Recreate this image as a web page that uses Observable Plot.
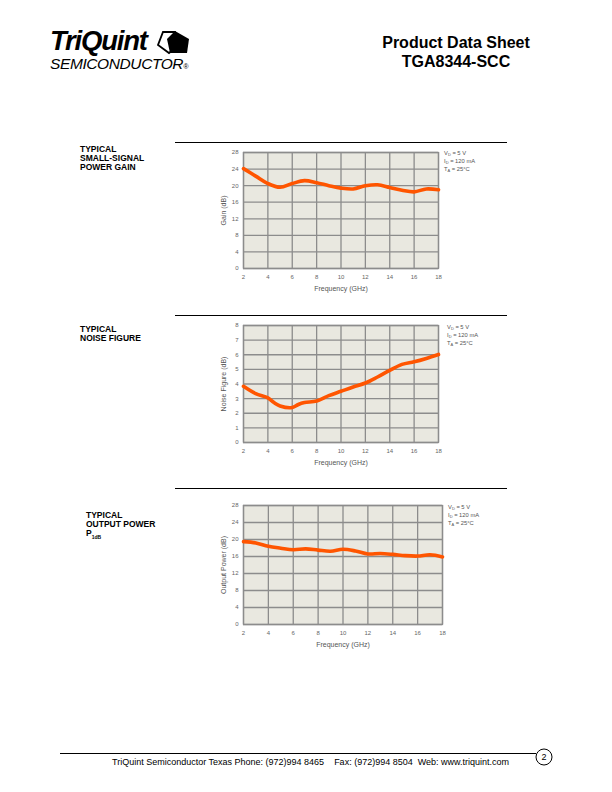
<!DOCTYPE html>
<html>
<head>
<meta charset="utf-8">
<script src="https://cdn.jsdelivr.net/npm/d3@7"></script>
<script src="https://cdn.jsdelivr.net/npm/@observablehq/plot@0.6"></script>
<style>
  html, body { margin:0; padding:0; background:#fff; }
  body { width:612px; height:792px; position:relative; overflow:hidden; font-family:"Liberation Sans", Arial, sans-serif; }
  .abs { position:absolute; }
  .sec { font-weight:bold; font-size:8.5px; line-height:9px; color:#000; }
  .leg { font-size:5.8px; line-height:7px; color:#555; white-space:nowrap; }
  .leg sub { font-size:4px; vertical-align:-1px; }
  .rule { position:absolute; height:1px; background:#000; }
</style>
</head>
<body>
<!-- header -->
<div class="abs" style="left:50px;top:26px;font-size:27.5px;font-weight:bold;font-style:italic;letter-spacing:-1.2px;line-height:30px;">TriQuint</div>
<svg class="abs" style="left:154px;top:29px;" width="40" height="28" viewBox="0 0 40 28">
  <polygon points="9,3 21,3 25,16 15,24 4,16" fill="#fff" stroke="#000" stroke-width="1.8"/>
  <polygon points="21,2 35,10 33,24 16,24 13,10" fill="#000"/>
</svg>
<div class="abs" style="left:50px;top:55px;font-size:15.5px;font-style:italic;letter-spacing:-0.4px;line-height:18px;">SEMICONDUCTOR<span style="font-size:7px;">®</span></div>
<div class="abs" style="left:356px;top:33px;width:200px;text-align:center;font-size:16px;font-weight:bold;line-height:19px;">Product Data Sheet<br>TGA8344-SCC</div>

<!-- section rules -->
<div class="rule" style="left:175px;top:142px;width:332px;"></div>
<div class="rule" style="left:175px;top:315px;width:332px;"></div>
<div class="rule" style="left:175px;top:488px;width:332px;"></div>

<!-- section labels -->
<div class="abs sec" style="left:80px;top:145px;">TYPICAL<br>SMALL-SIGNAL<br>POWER GAIN</div>
<div class="abs sec" style="left:80px;top:325px;">TYPICAL<br>NOISE FIGURE</div>
<div class="abs sec" style="left:86px;top:511px;">TYPICAL<br>OUTPUT POWER<br>P<sub style="font-size:5px;">1dB</sub></div>

<!-- legends -->
<div class="abs leg" style="left:444px;top:150px;">V<sub>D</sub> = 5 V<br>I<sub>D</sub> = 120 mA<br>T<sub>A</sub> = 25°C</div>
<div class="abs leg" style="left:447px;top:324px;">V<sub>D</sub> = 5 V<br>I<sub>D</sub> = 120 mA<br>T<sub>A</sub> = 25°C</div>
<div class="abs leg" style="left:448px;top:504px;">V<sub>D</sub> = 5 V<br>I<sub>D</sub> = 120 mA<br>T<sub>A</sub> = 25°C</div>

<div id="c1" class="abs" style="left:175px;top:140px;"></div>
<div id="c2" class="abs" style="left:175px;top:313px;"></div>
<div id="c3" class="abs" style="left:175px;top:493px;"></div>

<!-- footer -->
<div class="rule" style="left:60px;top:753px;width:476px;"></div>
<svg class="abs" style="left:534px;top:747px;" width="20" height="20">
  <circle cx="10" cy="10" r="8" fill="#fff" stroke="#000" stroke-width="1"/>
  <text x="10" y="13" text-anchor="middle" font-size="9" font-family="Liberation Sans, Arial">2</text>
</svg>
<div class="abs" style="left:112px;top:757px;font-size:9px;white-space:pre;line-height:11px;">TriQuint Semiconductor Texas Phone: (972)994 8465    Fax: (972)994 8504  Web: www.triquint.com</div>

<script>
// ---- data ----
const freq = [2,3,4,5,6,7,8,9,10,11,12,13,14,15,16,17,18];
const xTicks = [2,4,6,8,10,12,14,16,18];

const gainValues = [24.1,22.3,20.5,19.6,20.5,21.2,20.7,20.0,19.4,19.2,19.95,20.2,19.55,18.9,18.5,19.2,19.0];
const gainTicks = [0,4,8,12,16,20,24,28];

const nfFreq = [2,3,4,4.5,5,6,6.5,7,8,9,10,11,12,13,14,15,16,17,18];
const nfValues = [3.84,3.34,3.05,2.73,2.5,2.39,2.6,2.73,2.84,3.2,3.5,3.8,4.07,4.48,4.93,5.34,5.52,5.75,6.02];
const nfTicks = [0,1,2,3,4,5,6,7,8];

const poutValues = [19.5,19.2,18.4,17.96,17.6,17.8,17.5,17.25,17.7,17.3,16.6,16.7,16.5,16.2,16.1,16.4,15.9];
const poutTicks = [0,4,8,12,16,20,24,28];

function toRows(xs, ys) { return xs.map((f, i) => ({f, v: ys[i]})); }

function chart(id, rows, yDomain, yTicks, yLabel, opts) {
  const plot = Plot.plot({
    width: opts.width, height: opts.height,
    marginLeft: opts.ml, marginRight: opts.mr, marginTop: opts.mt, marginBottom: opts.mb,
    style: {fontFamily: "Liberation Sans, Arial, sans-serif", fontSize: "6px", color: "#666", background: "transparent", overflow: "visible"},
    x: {domain: [2, 18], ticks: xTicks, tickSize: 0, tickPadding: 6, label: "Frequency (GHz)", labelAnchor: "center", labelOffset: 22, labelArrow: "none"},
    y: {domain: yDomain, ticks: yTicks, tickSize: 0, tickPadding: 5, label: yLabel, labelAnchor: "center", labelOffset: 22, labelArrow: "none"},
    marks: [
      Plot.frame({fill: "#eceae2"}),
      Plot.gridX(xTicks, {stroke: "#8c8c8c", strokeOpacity: 1, strokeWidth: 1.3}),
      Plot.gridY(yTicks, {stroke: "#8c8c8c", strokeOpacity: 1, strokeWidth: 1.3}),
      Plot.frame({stroke: "#8c8c8c", strokeWidth: 1.3}),
      Plot.line(rows, {x: "f", y: "v", stroke: "#ff5500", strokeWidth: 3.6, curve: "catmull-rom"})
    ]
  });
  const svg = d3.select(plot);
  const pid = "chk-" + id;
  const defs = svg.insert("defs", ":first-child");
  const pat = defs.append("pattern").attr("id", pid).attr("patternUnits", "userSpaceOnUse").attr("width", 2).attr("height", 2);
  pat.append("rect").attr("width", 2).attr("height", 2).attr("fill", "#fbfaf0");
  pat.append("rect").attr("width", 1).attr("height", 1).attr("fill", "#d6d6d0");
  pat.append("rect").attr("x", 1).attr("y", 1).attr("width", 1).attr("height", 1).attr("fill", "#d6d6d0");
  const firstFrame = svg.selectAll('[aria-label="frame"]').nodes()[0];
  if (firstFrame) {
    const r = firstFrame.tagName === "rect" ? firstFrame : firstFrame.querySelector("rect");
    if (r) r.setAttribute("fill", `url(#${pid})`);
  }
  svg.selectAll('g[aria-label$="axis label"] text').style("font-size", "7px").style("fill", "#555");
  document.getElementById(id).appendChild(plot);
}

chart("c1", toRows(freq, gainValues), [0, 28], gainTicks, "Gain (dB)", {width: 335, height: 160, ml: 68, mr: 72, mt: 12, mb: 32});
chart("c2", toRows(nfFreq, nfValues), [0, 8], nfTicks, "Noise Figure (dB)", {width: 335, height: 160, ml: 68, mr: 72, mt: 12, mb: 31});
chart("c3", toRows(freq, poutValues), [0, 28], poutTicks, "Output Power (dB)", {width: 335, height: 165, ml: 68, mr: 68, mt: 12, mb: 34});
</script>
</body>
</html>
